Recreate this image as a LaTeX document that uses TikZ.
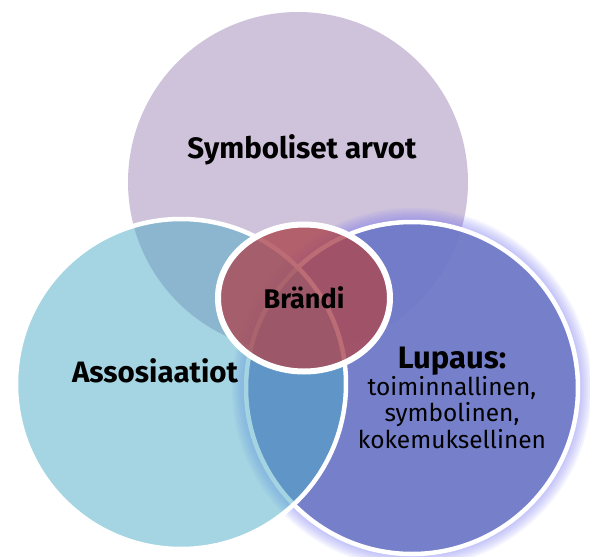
\documentclass[tikz,border=0pt]{standalone}
\usepackage{fontspec}
\setmainfont{Fira Sans}
\usetikzlibrary{shapes.geometric}
\definecolor{lilac}{RGB}{207,195,220}
\definecolor{aqua}{RGB}{75,171,197}
\definecolor{periwinkle}{RGB}{109,121,198}
\definecolor{wine}{RGB}{172,72,82}
\definecolor{glowblue}{RGB}{110,110,240}
\tikzset{
  every picture/.style={x=1pt, y=-1pt},
  venn/.style={circle, inner sep=0pt, minimum size=#1},
  ring/.style={draw=white, line width=4.5pt},
  bigtext/.style={font=\bfseries\fontsize{29.5}{32}\selectfont},
  smalltext/.style={font=\fontsize{24.5}{26.7}\selectfont, align=center}
}
\begin{document}
\begin{tikzpicture}
  \useasboundingbox (0,0) rectangle (590,557);
  \node[venn=340pt, fill=lilac] (arvot) at (298,182) {};
  \coordinate (lupausc) at (412,388);
  % soft glow round the promise circle
  \foreach \g in {2,4,...,14}
    \fill[glowblue, opacity=0.08] (lupausc) circle[radius={(166+\g)*1pt}];
  \node[venn=332pt, fill=periwinkle, fill opacity=0.9, ring] (lupaus) at (lupausc) {};
  \node[venn=330pt, fill=aqua, fill opacity=0.5, ring] (assos) at (181,384) {};
  \node[ellipse, inner sep=0pt, minimum width=172pt, minimum height=147pt, fill=wine, fill opacity=0.8,
    draw=white, line width=6pt, text opacity=1, font=\bfseries\fontsize{27}{30}\selectfont] (brandi) at (304,298) {Brändi};

  \node[bigtext] (arvottxt) at (302,150) {Symboliset arvot};
  \node[bigtext] (assostxt) at (155,371) {Assosiaatiot};
  \node[smalltext] (lupaustxt) at (452,398) {{\bfseries\fontsize{31}{30}\selectfont Lupaus:}\\toiminnallinen,\\symbolinen,\\kokemuksellinen};
\end{tikzpicture}
\end{document}
